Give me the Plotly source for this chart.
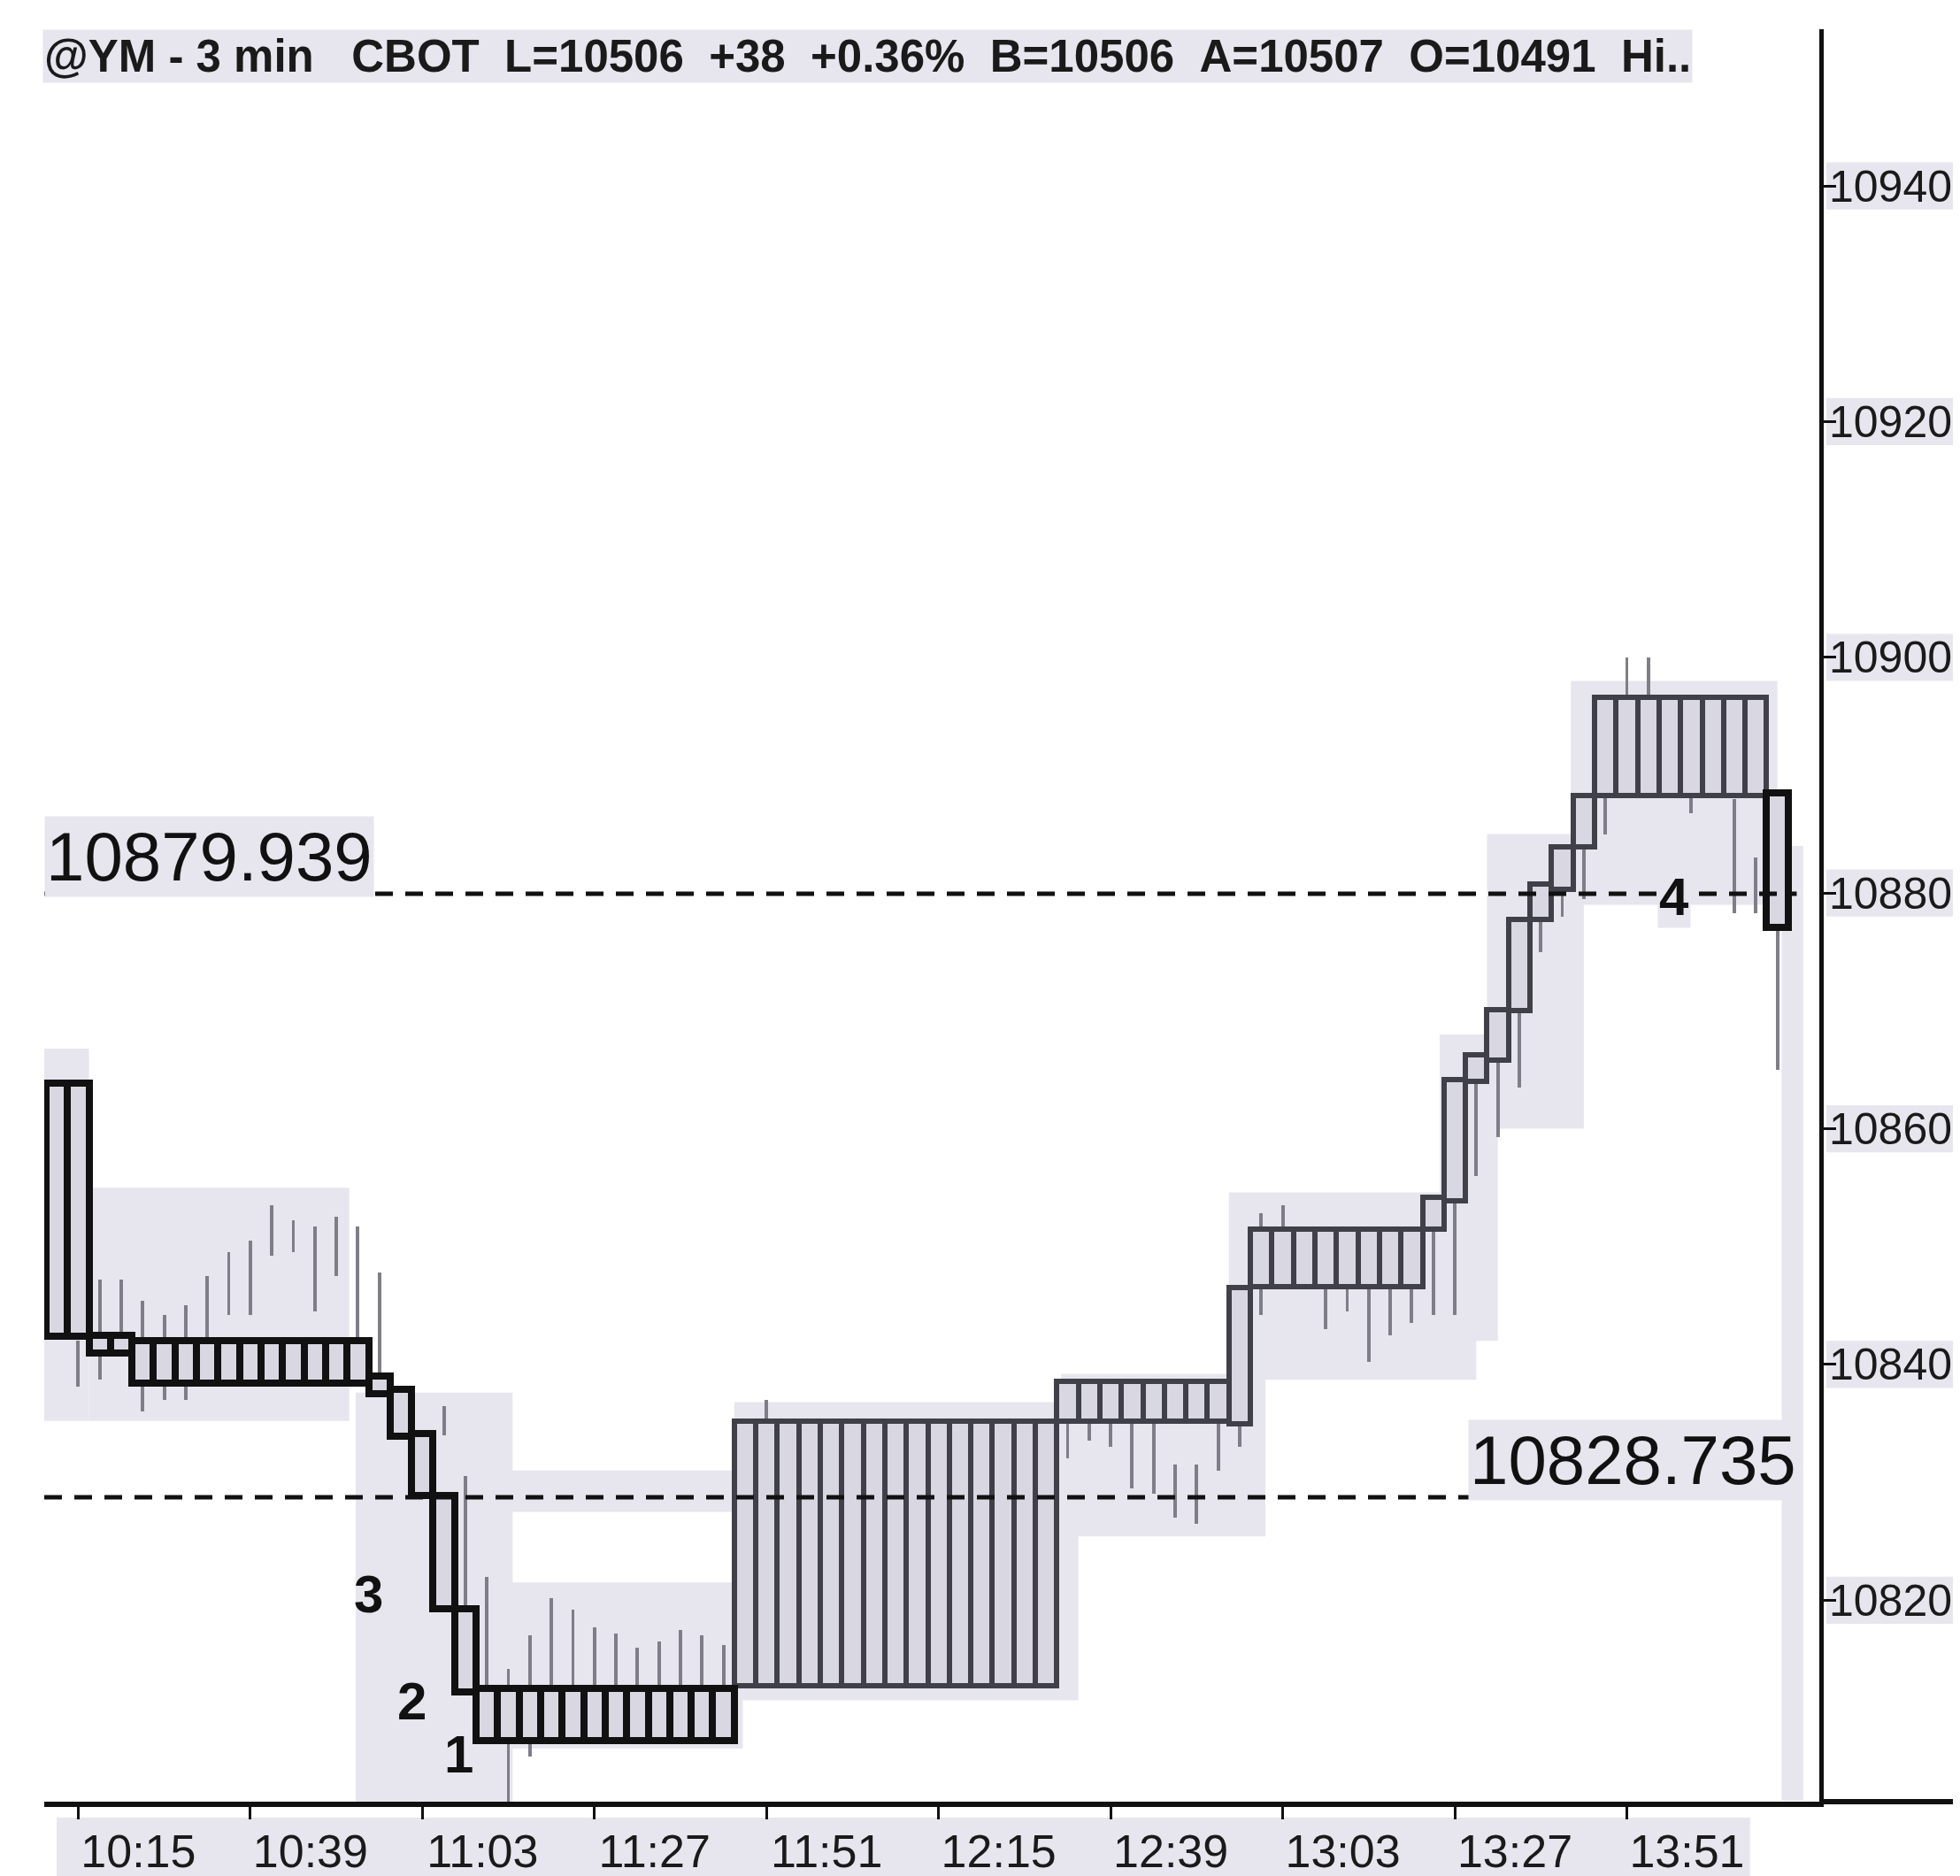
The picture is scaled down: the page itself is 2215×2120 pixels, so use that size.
import plotly.graph_objects as go

# ---------------- data ----------------
# one entry per 3-minute bar, bar 0 = 10:12 ... bar 80 = 14:12
bar_index = list(range(81))

box_low = [10842.4, 10842.4,
           10841.0, 10841.0,
           10838.4, 10838.4, 10838.4, 10838.4, 10838.4, 10838.4, 10838.4, 10838.4, 10838.4, 10838.4, 10838.4,
           10837.5, 10833.9, 10828.9, 10819.3, 10812.2,
           10808.1, 10808.1, 10808.1, 10808.1, 10808.1, 10808.1, 10808.1, 10808.1, 10808.1, 10808.1, 10808.1, 10808.1,
           10812.7, 10812.7, 10812.7, 10812.7, 10812.7, 10812.7, 10812.7, 10812.7, 10812.7, 10812.7, 10812.7, 10812.7,
           10812.7, 10812.7, 10812.7,
           10835.2, 10835.2, 10835.2, 10835.2, 10835.2, 10835.2, 10835.2, 10835.2,
           10835.0,
           10846.6, 10846.6, 10846.6, 10846.6, 10846.6, 10846.6, 10846.6, 10846.6,
           10851.5, 10853.9, 10864.0, 10865.8, 10870.0, 10877.8, 10880.3, 10883.9,
           10888.3, 10888.3, 10888.3, 10888.3, 10888.3, 10888.3, 10888.3, 10888.3,
           10877.1]

box_high = [10863.9, 10863.9,
            10842.5, 10842.5,
            10842.0, 10842.0, 10842.0, 10842.0, 10842.0, 10842.0, 10842.0, 10842.0, 10842.0, 10842.0, 10842.0,
            10839.0, 10837.9, 10834.1, 10828.9, 10819.3,
            10812.5, 10812.5, 10812.5, 10812.5, 10812.5, 10812.5, 10812.5, 10812.5, 10812.5, 10812.5, 10812.5, 10812.5,
            10835.2, 10835.2, 10835.2, 10835.2, 10835.2, 10835.2, 10835.2, 10835.2, 10835.2, 10835.2, 10835.2, 10835.2,
            10835.2, 10835.2, 10835.2,
            10838.6, 10838.6, 10838.6, 10838.6, 10838.6, 10838.6, 10838.6, 10838.6,
            10846.5,
            10851.5, 10851.5, 10851.5, 10851.5, 10851.5, 10851.5, 10851.5, 10851.5,
            10854.2, 10864.2, 10866.3, 10870.1, 10877.8, 10880.8, 10883.9, 10888.3,
            10896.6, 10896.6, 10896.6, 10896.6, 10896.6, 10896.6, 10896.6, 10896.6,
            10888.5]

wick_high = [None, 10842.0, 10847.2, 10847.2, 10845.4, 10844.2, 10845.0, 10847.5, 10849.5, 10850.5,
             10853.5, 10852.2, 10851.7, 10852.5, 10851.7, 10847.8, None, None, 10836.5, 10830.5,
             10822.0, 10814.2, 10817.0, 10820.2, 10819.2, 10817.7, 10817.2, 10816.0, 10816.5, 10817.5,
             10817.0, 10816.2, None, 10837.0, None, None, None, None, None, None,
             None, None, None, None, None, None, None, 10835.5, 10836.0, 10836.0,
             10836.0, 10836.0, 10831.5, 10831.5, 10836.0, 10846.0, 10852.8, 10853.5, None, 10850.0,
             10850.0, 10850.0, 10850.0, 10850.0, 10852.0, 10860.0, 10865.0, 10868.0, 10872.0, 10880.0,
             10882.0, 10886.0, 10890.0, 10900.0, 10900.0, None, 10890.0, None, 10888.0, 10883.0,
             10880.0]

wick_low = [None, 10838.1, 10838.7, 10841.0, 10836.0, 10837.0, 10837.0, 10840.0, 10844.2, 10844.2,
            10849.2, 10849.5, 10844.5, 10847.5, 10842.0, 10839.2, None, None, 10834.0, 10819.3,
            10812.5, 10802.6, 10806.7, 10810.0, 10810.0, 10810.0, 10810.0, 10810.0, 10810.0, 10810.0,
            10810.0, 10810.0, None, 10815.0, None, None, None, None, None, None,
            None, None, None, None, None, None, None, 10832.0, 10833.5, 10833.0,
            10829.5, 10829.0, 10827.0, 10826.5, 10831.0, 10833.0, 10844.2, 10847.0, None, 10843.0,
            10844.5, 10840.2, 10842.5, 10843.5, 10844.2, 10844.2, 10856.0, 10859.3, 10863.5, 10875.0,
            10878.0, 10879.5, 10885.0, 10888.3, 10888.3, None, 10886.8, None, 10878.3, 10878.3,
            10865.0]

tick_bars = [1, 9, 17, 25, 33, 41, 49, 57, 65, 73]
tick_labels = ["10:15", "10:39", "11:03", "11:27", "11:51", "12:15", "12:39", "13:03", "13:27", "13:51"]
price_ticks = [10820, 10840, 10860, 10880, 10900, 10920, 10940]

ref_levels = [10879.939, 10828.735]
ref_texts = ["10879.939", "10828.735"]

count_texts = ["3", "2", "1", "4"]
count_bar = [14.5, 16.5, 18.7, 75.2]
count_price = [10820.5, 10811.4, 10806.9, 10879.7]

# shaded (highlighted) zones of the scan: bar from, bar to, price low, price high
zone_bar0 = [-1.0, 1.5, 13.9, 20.9, 15.0, 31.5, 46.7, 54.5, 64.3, 66.5, 70.4, 80.2]
zone_bar1 = [1.5, 13.6, 21.2, 31.9, 32.0, 47.5, 56.2, 66.0, 67.0, 71.0, 80.0, 81.2]
zone_low = [10835.2, 10835.2, 10802.6, 10807.4, 10827.5, 10811.5, 10825.4, 10838.7, 10842.0, 10860.0, 10879.0, 10803.0]
zone_high = [10866.8, 10855.0, 10837.6, 10821.5, 10831.0, 10836.8, 10839.2, 10854.6, 10868.0, 10885.0, 10898.0, 10884.0]

title_text = ("@YM - 3 min\u00a0\u00a0\u00a0CBOT\u00a0\u00a0L=10506\u00a0\u00a0+38\u00a0\u00a0+0.36%\u00a0\u00a0"
              "B=10506\u00a0\u00a0A=10507\u00a0\u00a0O=10491\u00a0\u00a0Hi..")

# ---------------- styling ----------------
X_RANGE = [-0.58, 81.95]
Y_RANGE = [10802.9, 10953.3]
dark_bars = set(range(0, 32)) | {80}
PALE = "#e7e6ee"
CELL = "#d9d7e1"
SANS = "Liberation Sans, Arial, sans-serif"


def pick(vals, keep):
    return [v if i in keep else None for i, v in enumerate(vals)]


heights = [h - l for h, l in zip(box_high, box_low)]
wick_len = [None if h is None else h - l for h, l in zip(wick_high, wick_low)]

fig = go.Figure()

# price-bar wicks (behind the boxes)
fig.add_trace(go.Bar(x=bar_index, y=wick_len, base=wick_low, width=0.16,
                     marker=dict(color="#7f7e88", line=dict(width=0)), hoverinfo="skip"))

light_idx = set(bar_index) - dark_bars
fig.add_trace(go.Bar(x=bar_index, y=pick(heights, light_idx), base=pick(box_low, light_idx), width=1.0,
                     marker=dict(color=CELL, line=dict(color="#404048", width=6))))
fig.add_trace(go.Bar(x=bar_index, y=pick(heights, dark_bars), base=pick(box_low, dark_bars), width=1.0,
                     marker=dict(color=CELL, line=dict(color="#111111", width=8))))

shapes = []
for x0, x1, lo, hi in zip(zone_bar0, zone_bar1, zone_low, zone_high):
    shapes.append(dict(type="rect", xref="x", yref="y", x0=x0, x1=x1, y0=lo, y1=hi,
                       fillcolor=PALE, line=dict(width=0), layer="below"))
# pale band behind the time labels and the price labels
shapes.append(dict(type="rect", xref="paper", yref="paper", x0=0.007, x1=0.961, y0=-0.043, y1=-0.009,
                   fillcolor=PALE, line=dict(width=0), layer="below"))
for p in price_ticks:
    shapes.append(dict(type="rect", xref="paper", yref="y", x0=1.004, x1=1.083, y0=p - 2.0, y1=p + 2.0,
                       fillcolor=PALE, line=dict(width=0), layer="below"))
for lvl in ref_levels:
    shapes.append(dict(type="line", xref="x", yref="y", x0=X_RANGE[0], x1=80.9, y0=lvl, y1=lvl,
                       line=dict(color="#111111", width=5, dash="20px,14px")))
# x axis line continues past the price axis
shapes.append(dict(type="line", xref="paper", yref="paper", x0=1.0, x1=1.09, y0=0, y1=0,
                   line=dict(color="#111111", width=6)))

annotations = [
    dict(xref="paper", yref="paper", x=-0.001, y=0.985, xanchor="left", yanchor="middle",
         text=title_text, showarrow=False, bgcolor=PALE,
         font=dict(family=SANS, size=51, color="#1a1a1a", weight="bold")),
    dict(xref="x", yref="y", x=X_RANGE[0], y=ref_levels[0], xanchor="left", yanchor="bottom",
         yshift=-4, text=ref_texts[0], showarrow=False, bgcolor=PALE,
         font=dict(family=SANS, size=78, color="#111111")),
    dict(xref="x", yref="y", x=80.95, y=ref_levels[1], xanchor="right", yanchor="bottom",
         yshift=-4, text=ref_texts[1], showarrow=False, bgcolor=PALE,
         font=dict(family=SANS, size=78, color="#111111")),
]
for t, bx, pr in zip(count_texts, count_bar, count_price):
    annotations.append(dict(xref="x", yref="y", x=bx, y=pr, text=t, showarrow=False,
                            xanchor="center", yanchor="middle",
                            bgcolor=PALE if t == "4" else "rgba(0,0,0,0)",
                            font=dict(family=SANS, size=60, color="#111111", weight="bold")))

fig.update_layout(
    width=2215, height=2120,
    margin=dict(l=42, r=167, t=25, b=92, autoexpand=False),
    paper_bgcolor="white", plot_bgcolor="white",
    barmode="overlay", bargap=0, showlegend=False,
    shapes=shapes, annotations=annotations,
    xaxis=dict(range=X_RANGE, tickmode="array", tickvals=tick_bars, ticktext=tick_labels,
               ticks="outside", ticklen=14, tickwidth=3, tickcolor="#111111",
               showline=True, linewidth=6, linecolor="#111111", automargin=False,
               showgrid=False, zeroline=False, ticklabelshift=68, ticklabelstandoff=-8,
               tickfont=dict(family=SANS, size=52, color="#1a1a1a")),
    yaxis=dict(range=Y_RANGE, side="right", tickmode="array", tickvals=price_ticks,
               ticktext=[str(p) for p in price_ticks], automargin=False,
               ticks="outside", ticklen=14, tickwidth=3, tickcolor="#111111",
               showline=True, linewidth=5, linecolor="#111111",
               showgrid=False, zeroline=False, ticklabelstandoff=-18,
               tickfont=dict(family=SANS, size=50, color="#1a1a1a")),
)

fig.write_html("out.html")
